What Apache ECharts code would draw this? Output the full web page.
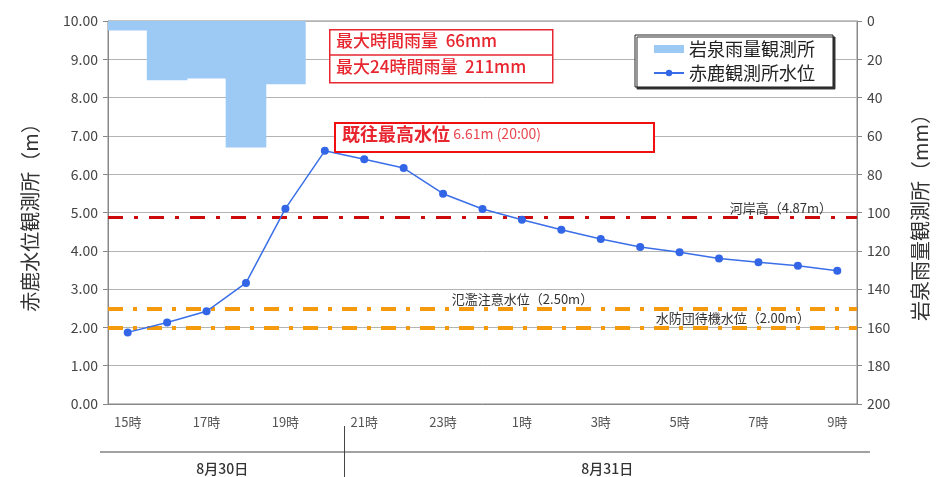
<!DOCTYPE html>
<html>
<head>
<meta charset="utf-8">
<script src="https://cdn.jsdelivr.net/npm/echarts@6/dist/echarts.min.js"></script>
<style>
html,body{margin:0;padding:0;background:#fff;}
#chart{width:938px;height:477px;}
</style>
</head>
<body>
<div id="chart"></div>
<script>
// ---- data ----
const hours = ['15時','16時','17時','18時','19時','20時','21時','22時','23時','0時','1時','2時','3時','4時','5時','6時','7時','8時','9時'];
const rainfall = [5, 31, 30, 66, 33, 0, 0, 0, 0, 0, 0, 0, 0, 0, 0, 0, 0, 0, 0];
const waterLevel = [1.87, 2.13, 2.42, 3.16, 5.10, 6.61, 6.39, 6.16, 5.49, 5.09, 4.81, 4.55, 4.31, 4.10, 3.96, 3.80, 3.70, 3.61, 3.48];
const refLevels = [
  {name: '河岸高', value: 4.87},
  {name: '氾濫注意水位', value: 2.50},
  {name: '水防団待機水位', value: 2.00}
];
const dates = ['8月30日', '8月31日'];
const dateBoundary = ['20時', '21時'];
const rainName = '岩泉雨量観測所';
const levelName = '赤鹿観測所水位';

const FONT = '"Noto Sans CJK JP", "Noto Sans", sans-serif';
const RED = '#e8262f';
const BAR = '#9dcaf5';

const chart = echarts.init(document.getElementById('chart'), null, {renderer: 'canvas'});

const option = {
  backgroundColor: '#fff',
  textStyle: {fontFamily: FONT},
  animation: false,
  grid: {left: 108, right: 74, top: 21, bottom: 73, show: true, borderColor: '#888', borderWidth: 1, backgroundColor: 'transparent'},
  legend: {
    left: 635, top: 35,
    orient: 'vertical',
    padding: [5, 18, 5, 18],
    itemGap: 6,
    itemWidth: 30, itemHeight: 8,
    backgroundColor: '#fff',
    borderColor: '#222', borderWidth: 1,
    shadowColor: '#333', shadowBlur: 0, shadowOffsetX: 2, shadowOffsetY: 2,
    textStyle: {fontSize: 18, color: '#222', fontFamily: FONT},
    data: [
      {name: rainName, icon: 'rect'},
      {name: levelName}
    ]
  },
  xAxis: [{
    type: 'category',
    data: hours,
    boundaryGap: true,
    axisLine: {lineStyle: {color: '#888'}},
    axisTick: {show: false},
    axisLabel: {interval: 1, color: '#555', fontSize: 13, margin: 12, fontFamily: FONT}
  }],
  yAxis: [{
    type: 'value',
    min: 0, max: 10, interval: 1,
    name: '赤鹿水位観測所（m）',
    nameLocation: 'middle',
    nameRotate: 90,
    nameGap: 68,
    nameTextStyle: {fontSize: 20, color: '#333', fontFamily: FONT},
    axisLine: {show: true, lineStyle: {color: '#888'}},
    axisTick: {show: true, length: 5, lineStyle: {color: '#888'}},
    axisLabel: {formatter: v => v.toFixed(2), color: '#444', fontSize: 14, margin: 10, fontFamily: FONT},
    splitLine: {show: true, lineStyle: {color: '#b4b4b4', width: 1}}
  }, {
    type: 'value',
    min: 0, max: 200, interval: 20,
    inverse: true,
    position: 'right',
    name: '岩泉雨量観測所（mm）',
    nameLocation: 'middle',
    nameRotate: 90,
    nameGap: 53,
    nameTextStyle: {fontSize: 20, color: '#333', fontFamily: FONT},
    axisLine: {show: true, lineStyle: {color: '#888'}},
    axisTick: {show: true, length: 5, lineStyle: {color: '#888'}},
    axisLabel: {color: '#444', fontSize: 14, margin: 10, fontFamily: FONT},
    splitLine: {show: false}
  }],
  series: [{
    name: rainName,
    type: 'bar',
    yAxisIndex: 1,
    data: rainfall,
    barWidth: '103%',
    barGap: '-100%',
    itemStyle: {color: BAR},
    z: 1
  }, {
    name: levelName,
    type: 'line',
    yAxisIndex: 0,
    data: waterLevel,
    symbol: 'circle',
    symbolSize: 8,
    lineStyle: {color: '#3a6fe8', width: 1.5},
    itemStyle: {color: '#3366e6'},
    z: 5,
    markLine: {
      silent: true,
      symbol: 'none',
      animation: false,
      data: [
        {yAxis: refLevels[0].value, name: refLevels[0].name,
         lineStyle: {color: '#cc0a0a', width: 3, type: [15, 11, 4, 11]},
         label: {position: 'insideEndTop', distance: 3, padding: [0, 22, 0, 0],
                 formatter: refLevels[0].name + '（' + refLevels[0].value.toFixed(2) + 'm）'}},
        {yAxis: refLevels[1].value, name: refLevels[1].name,
         lineStyle: {color: '#f59a0c', width: 4, type: [15, 10, 4, 10]},
         label: {position: 'insideMiddleTop', distance: 3, padding: [0, 0, 0, 80],
                 formatter: refLevels[1].name + '（' + refLevels[1].value.toFixed(2) + 'm）'}},
        {yAxis: refLevels[2].value, name: refLevels[2].name,
         lineStyle: {color: '#f59a0c', width: 4, type: [15, 10, 4, 10]},
         label: {position: 'insideEndTop', distance: 3, padding: [0, 44, 0, 0],
                 formatter: refLevels[2].name + '（' + refLevels[2].value.toFixed(2) + 'm）'}}
      ],
      label: {color: '#333', fontSize: 13, fontFamily: FONT}
    }
  }]
};

chart.setOption(option);

// annotations and date band
const sepX = (chart.convertToPixel({xAxisIndex: 0}, dateBoundary[0]) + chart.convertToPixel({xAxisIndex: 0}, dateBoundary[1])) / 2;
const leftEdge = 100, rightEdge = 870, bandY = 452;

chart.setOption({
  graphic: [
    // rainfall annotation box
    {type: 'rect', left: 329, top: 29, shape: {width: 223, height: 53}, style: {fill: '#fff', stroke: RED, lineWidth: 1.5}, z: 100},
    {type: 'line', shape: {x1: 329, y1: 55, x2: 552, y2: 55}, style: {stroke: RED, lineWidth: 1.5}, z: 101},
    {type: 'text', left: 336, top: 32, style: {text: '最大時間雨量  66mm', fill: RED, font: '500 17px ' + FONT}, z: 102},
    {type: 'text', left: 336, top: 58, style: {text: '最大24時間雨量  211mm', fill: RED, font: '500 17px ' + FONT}, z: 102},
    // record high annotation
    {type: 'rect', left: 334, top: 122, shape: {width: 319, height: 29}, style: {fill: '#fff', stroke: '#f01010', lineWidth: 2}, z: 100},
    {type: 'text', left: 342, top: 125, style: {
      text: '{a|既往最高水位} {b|6.61m (20:00)}',
      rich: {a: {fontSize: 18, fontWeight: 'bold', fill: RED, fontFamily: FONT}, b: {fontSize: 14, fill: '#e8474f', fontFamily: FONT}}
    }, z: 102},
    // date band
    {type: 'line', shape: {x1: leftEdge, y1: bandY, x2: rightEdge, y2: bandY}, style: {stroke: '#444', lineWidth: 1}},
    {type: 'line', shape: {x1: sepX, y1: 426, x2: sepX, y2: 477}, style: {stroke: '#444', lineWidth: 1}},
    {type: 'text', x: (leftEdge + sepX) / 2, y: 469, style: {text: dates[0], fill: '#333', font: '500 14px ' + FONT, align: 'center', verticalAlign: 'middle'}},
    {type: 'text', x: (sepX + rightEdge) / 2, y: 469, style: {text: dates[1], fill: '#333', font: '500 14px ' + FONT, align: 'center', verticalAlign: 'middle'}}
  ]
});
</script>
</body>
</html>
